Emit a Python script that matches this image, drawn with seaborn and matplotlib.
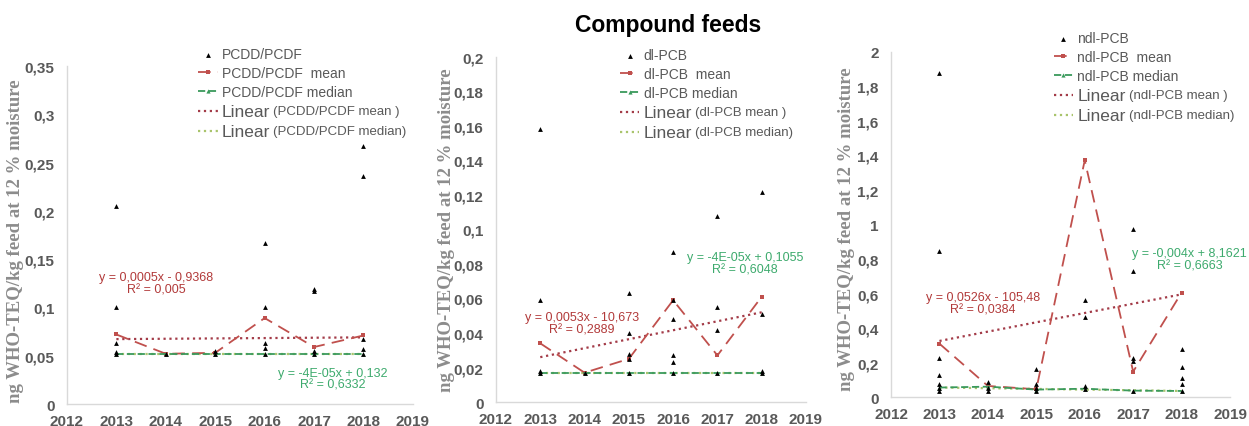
import numpy as np
import matplotlib.pyplot as plt
import seaborn as sns
from matplotlib.ticker import FuncFormatter

sns.set_style("white")
plt.rcParams['font.family'] = ['Liberation Sans', 'DejaVu Sans']

years = [2013, 2014, 2015, 2016, 2017, 2018]
trend_years = [2013, 2018]

# PCDD/PCDF
pcdd_x = [2013] * 5 + [2014] + [2015] * 2 + [2016] * 5 + [2017] * 4 + [2018] * 5
pcdd_y = [0.205, 0.100, 0.063, 0.054, 0.052,
          0.052,
          0.055, 0.052,
          0.167, 0.100, 0.063, 0.058, 0.052,
          0.119, 0.117, 0.055, 0.052,
          0.267, 0.236, 0.067, 0.057, 0.052]
pcdd_mean = [0.072, 0.052, 0.053, 0.089, 0.059, 0.071]
pcdd_median = [0.052, 0.052, 0.052, 0.052, 0.052, 0.052]
pcdd_trend_mean = [0.0672, 0.069]
pcdd_trend_median = [0.052, 0.052]

# dl-PCB
dl_x = [2013] * 4 + [2014] + [2015] * 5 + [2016] * 6 + [2017] * 4 + [2018] * 4
dl_y = [0.158, 0.059, 0.018, 0.017,
        0.017,
        0.063, 0.040, 0.028, 0.025, 0.017,
        0.087, 0.059, 0.048, 0.027, 0.023, 0.017,
        0.108, 0.055, 0.042, 0.017,
        0.122, 0.051, 0.018, 0.017]
dl_mean = [0.034, 0.017, 0.025, 0.059, 0.027, 0.061]
dl_median = [0.017, 0.017, 0.017, 0.017, 0.017, 0.017]
dl_trend_mean = [0.026, 0.052]
dl_trend_median = [0.017, 0.017]

# ndl-PCB
ndl_x = [2013] * 7 + [2014] * 3 + [2015] * 4 + [2016] * 4 + [2017] * 5 + [2018] * 5
ndl_y = [1.876, 0.846, 0.224, 0.126, 0.073, 0.054, 0.035,
         0.087, 0.054, 0.035,
         0.164, 0.073, 0.054, 0.035,
         0.560, 0.464, 0.064, 0.044,
         0.976, 0.730, 0.224, 0.209, 0.035,
         0.280, 0.174, 0.108, 0.073, 0.035]
ndl_mean = [0.309, 0.064, 0.045, 1.372, 0.147, 0.605]
ndl_median = [0.055, 0.060, 0.043, 0.048, 0.037, 0.035]
ndl_trend_mean = [0.325, 0.595]
ndl_trend_median = [0.055, 0.035]

panels = [
    dict(name="PCDD/PCDF", x=pcdd_x, y=pcdd_y, mean=pcdd_mean, median=pcdd_median,
         tmean=pcdd_trend_mean, tmedian=pcdd_trend_median, ymax=0.35, ystep=0.05,
         pos=[0.0536, 0.0515, 0.277, 0.7916], leg=(0.38, 1.055), lab=(-0.15, 0.485),
         eq_mean=("y = 0,0005x - 0,9368\nR² = 0,005", 2013.8, 0.112),
         eq_med=("y = -4E-05x + 0,132\nR² = 0,6332", 2017.38, 0.0135)),
    dict(name="dl-PCB", x=dl_x, y=dl_y, mean=dl_mean, median=dl_median,
         tmean=dl_trend_mean, tmedian=dl_trend_median, ymax=0.2, ystep=0.02,
         pos=[0.3971, 0.0562, 0.2482, 0.808], leg=(0.40, 1.025), lab=(-0.158, 0.5),
         eq_mean=("y = 0,0053x - 10,673\nR² = 0,2889", 2013.94, 0.0388),
         eq_med=("y = -4E-05x + 0,1055\nR² = 0,6048", 2017.62, 0.0736)),
    dict(name="ndl-PCB", x=ndl_x, y=ndl_y, mean=ndl_mean, median=ndl_median,
         tmean=ndl_trend_mean, tmedian=ndl_trend_median, ymax=2.0, ystep=0.2,
         pos=[0.7134, 0.0679, 0.2714, 0.808], leg=(0.48, 1.06), lab=(-0.13, 0.49),
         eq_mean=("y = 0,0526x - 105,48\nR² = 0,0384", 2013.9, 0.475),
         eq_med=("y = -0,004x + 8,1621\nR² = 0,6663", 2018.16, 0.73)),
]

red = "#C0504D"
green = "#3A9A5C"
trend_red = "#A33B48"
trend_green = "#A9C46C"
gray = "#595959"

fig = plt.figure(figsize=(12.49, 4.27), dpi=100)

for p in panels:
    ax = fig.add_axes(p["pos"])
    n = p["name"]
    sns.scatterplot(x=p["x"], y=p["y"], marker="^", color="black", s=12,
                    linewidth=0, ax=ax, label=n, zorder=4)
    sns.lineplot(x=years, y=p["mean"], color=red, lw=1.3, ax=ax, marker="s",
                 markersize=3, markeredgewidth=0, label=n + "  mean", zorder=3)
    ax.lines[-1].set_dashes([7, 4])
    sns.lineplot(x=years, y=p["median"], color=green, lw=1.3, ax=ax, marker="^",
                 markersize=3, markeredgewidth=0, label=n + " median", zorder=3)
    ax.lines[-1].set_dashes([4, 2])
    sns.lineplot(x=trend_years, y=p["tmean"], color=trend_red, lw=1.6, ax=ax,
                 label="Linear", zorder=2)
    ax.lines[-1].set_linestyle(":")
    sns.lineplot(x=trend_years, y=p["tmedian"], color=trend_green, lw=1.6, ax=ax,
                 label="Linear", zorder=1)
    ax.lines[-1].set_linestyle(":")

    ax.set_xlim(2012, 2019)
    ax.set_ylim(0, p["ymax"])
    ax.set_xticks(range(2012, 2020))
    ax.set_yticks(np.arange(0, p["ymax"] + p["ystep"] / 2, p["ystep"]))
    ax.yaxis.set_major_formatter(FuncFormatter(lambda v, _: f"{v:.2f}".rstrip("0").rstrip(".").replace(".", ",")))
    ax.tick_params(axis="both", length=0, labelsize=11, labelcolor=gray)
    ax.tick_params(axis="x", pad=7)
    ax.tick_params(axis="y", pad=9)
    for lab in ax.get_xticklabels() + ax.get_yticklabels():
        lab.set_fontweight("bold")
    for s in ["top", "right"]:
        ax.spines[s].set_visible(False)
    for s in ["left", "bottom"]:
        ax.spines[s].set_color("#D9D9D9")
        ax.spines[s].set_linewidth(1)

    ax.set_ylabel("ng WHO-TEQ/kg feed at 12 % moisture", family="Liberation Serif",
                  fontweight="bold", fontsize=13.5, color="#8C8C8C", va="center")
    ax.yaxis.set_label_coords(*p["lab"])

    ax.text(p["eq_mean"][1], p["eq_mean"][2], p["eq_mean"][0], color="#B23A3A",
            fontsize=9, ha="center", va="bottom", linespacing=1.05)
    ax.text(p["eq_med"][1], p["eq_med"][2], p["eq_med"][0], color="#3DAA6D",
            fontsize=9, ha="center", va="bottom", linespacing=1.05)

    leg = ax.legend(loc="upper left", bbox_to_anchor=p["leg"], frameon=False,
                    fontsize=10, handlelength=1.4, handletextpad=0.3,
                    labelspacing=0.35, borderpad=0, borderaxespad=0)
    texts = leg.get_texts()
    for t in texts:
        t.set_color(gray)
    for t, suffix in zip(texts[3:], [" mean )", " median)"]):
        t.set_fontsize(12.5)
        ax.annotate("(" + n + suffix, xy=(1, 0.12), xycoords=t, xytext=(2, 0),
                    textcoords="offset points", ha="left", va="bottom",
                    fontsize=9.5, color=gray, zorder=10, annotation_clip=False)

fig.text(0.535, 0.94, "Compound feeds", ha="center", va="center",
         fontsize=16.5, fontweight="bold", color="black")

plt.savefig("out.png", dpi=100)
